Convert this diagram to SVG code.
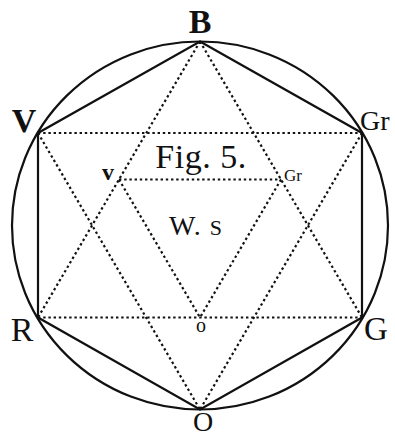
<svg xmlns="http://www.w3.org/2000/svg" width="395" height="438" viewBox="0 0 395 438">
<style>
.solid{fill:none;stroke:#111;stroke-width:2.2;stroke-linecap:round}
.dot{fill:none;stroke:#111;stroke-width:2.2;stroke-dasharray:2.4 2.8}
.lbl{font-family:"Liberation Serif","Times New Roman",serif;fill:#111}
</style>
<rect width="395" height="438" fill="#fff"/>
<g id="frame">
<ellipse class="solid" cx="200" cy="225.5" rx="188" ry="184" stroke-width="2.8"/>
<polygon class="solid" points="200,41.5 362,133 362,317.5 200,409.5 38,317.5 38,133"/>
</g>
<g id="connectors">
<line class="dot" x1="38" y1="133" x2="362" y2="133"/>
<line class="dot" x1="38" y1="317.5" x2="362" y2="317.5"/>
<line class="dot" x1="200" y1="41.5" x2="38" y2="317.5"/>
<line class="dot" x1="200" y1="41.5" x2="362" y2="317.5"/>
<line class="dot" x1="38" y1="133" x2="200" y2="409.5"/>
<line class="dot" x1="362" y1="133" x2="200" y2="409.5"/>
<line class="dot" x1="119" y1="179.5" x2="281" y2="179.5"/>
<line class="dot" x1="119" y1="179.5" x2="200" y2="317.5"/>
<line class="dot" x1="281" y1="179.5" x2="200" y2="317.5"/>
</g>
<g id="node-B"><text class="lbl" x="200" y="33" font-size="34" font-weight="bold" text-anchor="middle">B</text></g>
<g id="node-V"><text class="lbl" x="24" y="132" font-size="34" font-weight="bold" text-anchor="middle">V</text></g>
<g id="node-Gr"><text class="lbl" x="360" y="130" font-size="28" text-anchor="start">Gr</text></g>
<g id="node-R"><text class="lbl" x="22" y="341" font-size="34" text-anchor="middle">R</text></g>
<g id="node-G"><text class="lbl" x="376" y="340" font-size="33" text-anchor="middle">G</text></g>
<g id="node-O"><text class="lbl" x="203" y="431" font-size="28" text-anchor="middle">O</text></g>
<g id="node-v"><text class="lbl" x="108" y="180" font-size="24" font-weight="bold" text-anchor="middle">v</text></g>
<g id="node-gr"><text class="lbl" x="284" y="181" font-size="17" text-anchor="start">Gr</text></g>
<g id="node-o"><text class="lbl" x="201" y="332" font-size="20" text-anchor="middle">o</text></g>
<g id="title"><text class="lbl" x="201" y="168" font-size="34" text-anchor="middle" letter-spacing="0.5">Fig. 5.</text></g>
<g id="ws"><text class="lbl" x="196" y="235" font-size="28" text-anchor="middle" letter-spacing="1">W. <tspan font-size="22">S</tspan></text></g>
</svg>
